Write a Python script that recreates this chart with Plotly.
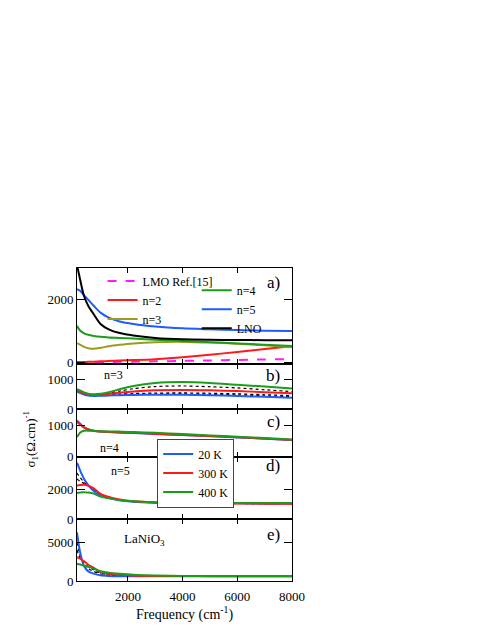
import plotly.graph_objects as go
from plotly.subplots import make_subplots

# frequency grid (cm^-1) shared by all curves
freq = [140, 250, 400, 550, 750, 1000, 1300, 1700, 2200, 3000, 4000, 5000, 6000, 7000, 8000]

# panel a) - room temperature spectra
lmo_ref = [5, 5, 5, 5, 8, 10, 12, 15, 20, 30, 45, 60, 75, 90, 105]
n2 = [0, 5, 10, 15, 20, 30, 40, 55, 70, 100, 160, 240, 330, 420, 510]
n3 = [610, 560, 490, 450, 430, 460, 510, 555, 600, 640, 650, 630, 590, 540, 480]
n4 = [1160, 1010, 920, 875, 840, 810, 790, 775, 755, 720, 680, 640, 600, 560, 520]
n5 = [2330, 2280, 2130, 1990, 1800, 1580, 1420, 1300, 1220, 1140, 1080, 1050, 1025, 1005, 995]
lno = [3100, 2650, 2100, 1800, 1530, 1220, 1050, 930, 850, 775, 730, 715, 708, 705, 705]

# panel b) n=3
b_20 = [580, 540, 490, 455, 440, 445, 455, 465, 475, 482, 482, 465, 440, 410, 383]
b_300 = [615, 580, 530, 490, 472, 480, 510, 550, 590, 625, 637, 625, 600, 565, 528]
b_400 = [660, 620, 560, 515, 495, 510, 560, 660, 770, 870, 900, 870, 810, 750, 690]
b_mid = [
    [590, 550, 500, 462, 447, 452, 466, 480, 495, 505, 508, 495, 475, 445, 415],
    [600, 560, 510, 472, 455, 462, 480, 500, 520, 535, 540, 530, 510, 480, 450],
    [640, 600, 545, 505, 485, 495, 530, 600, 680, 750, 770, 745, 705, 645, 585],
]

# panel c) n=4
c_20 = [1150, 1050, 930, 870, 820, 795, 780, 765, 750, 720, 685, 650, 612, 570, 527]
c_300 = [1100, 1020, 920, 865, 825, 800, 785, 770, 755, 725, 690, 655, 618, 575, 532]
c_400 = [620, 760, 820, 825, 815, 805, 800, 795, 785, 755, 716, 675, 631, 590, 549]
c_mid = [
    [1120, 1030, 915, 860, 818, 795, 780, 765, 752, 722, 688, 652, 615, 572, 530],
]

# panel d) n=5
d_20 = [3800, 3300, 2700, 2300, 1900, 1580, 1420, 1270, 1170, 1110, 1090, 1075, 1065, 1060, 1060]
d_300 = [2270, 2300, 2310, 2250, 2080, 1700, 1500, 1320, 1200, 1120, 1080, 1060, 1050, 1045, 1040]
d_400 = [1760, 1800, 1820, 1790, 1720, 1520, 1400, 1280, 1200, 1140, 1110, 1100, 1095, 1095, 1095]
d_mid = [
    [3100, 2800, 2500, 2250, 1990, 1640, 1460, 1300, 1185, 1115, 1085, 1068, 1058, 1053, 1050],
    [2700, 2550, 2400, 2250, 2030, 1670, 1480, 1310, 1190, 1118, 1083, 1065, 1055, 1050, 1048],
]

# panel e) LaNiO3
e_20 = [6300, 3800, 1900, 1250, 950, 730, 650, 610, 600, 600, 600, 600, 600, 600, 600]
e_300 = [3100, 2900, 2550, 2100, 1700, 1150, 950, 820, 720, 660, 640, 630, 625, 620, 620]
e_400 = [2220, 2130, 1980, 1830, 1620, 1260, 1080, 930, 800, 700, 660, 650, 650, 650, 650]
e_mid = [
    [5000, 3300, 2200, 1600, 1250, 900, 760, 680, 640, 615, 610, 605, 605, 605, 605],
    [4000, 3000, 2350, 1850, 1450, 1000, 820, 720, 660, 630, 620, 615, 612, 610, 610],
]

temps = ["20 K", "300 K", "400 K"]
y_ranges = [[-50, 3000], [0, 1500], [0, 1500], [0, 4200], [0, 8000]]
y_ticks = [[0, 2000], [0, 1000], [0, 1000], [0, 2000], [0, 5000]]
x_ticks = [2000, 4000, 6000, 8000]

BLUE = "#1f5cff"
RED = "#ff1a1a"
GREEN = "#1a9e1a"
OLIVE = "#9e9a1e"
MAGENTA = "#ff19ff"
FONT = "Liberation Serif"

fig = make_subplots(rows=5, cols=1, shared_xaxes=True, vertical_spacing=0,
                    row_heights=[95.7, 45.3, 47.4, 62.3, 61.7])


def curve(y, color, row, name=None, dash="solid", width=2, legend=None):
    fig.add_trace(go.Scatter(
        x=freq, y=y, mode="lines", name=name,
        line=dict(color=color, width=width, dash=dash, shape="spline", smoothing=0.8),
        showlegend=legend is not None, legend=legend or "legend",
    ), row=row, col=1)


# panel a
curve(lmo_ref, MAGENTA, 1, "LMO Ref.[15]", dash="dash", legend="legend")
curve(n2, RED, 1, "n=2", legend="legend")
curve(n3, OLIVE, 1, "n=3", legend="legend")
curve(n4, GREEN, 1, "n=4", legend="legend2")
curve(n5, BLUE, 1, "n=5", legend="legend2")
curve(lno, "black", 1, "LNO", legend="legend2")

# temperature panels
panels = [(b_20, b_300, b_400, b_mid), (c_20, c_300, c_400, c_mid),
          (d_20, d_300, d_400, d_mid), (e_20, e_300, e_400, e_mid)]
for i, (s20, s300, s400, mids) in enumerate(panels):
    row = i + 2
    for m in mids:
        curve(m, "black", row, dash="dot", width=1.2)
    first = i == 0
    curve(s20, BLUE, row, temps[0], legend="legend3" if first else None)
    curve(s300, RED, row, temps[1], legend="legend3" if first else None)
    curve(s400, GREEN, row, temps[2], legend="legend3" if first else None)

for r in range(1, 6):
    fig.update_yaxes(range=y_ranges[r - 1], tickvals=y_ticks[r - 1], row=r, col=1)
    fig.update_xaxes(range=[140, 8000], tickvals=x_ticks, row=r, col=1)

fig.update_xaxes(showline=True, linecolor="black", linewidth=1, mirror="ticks",
                 ticks="inside", ticklen=5, tickcolor="black", showgrid=False,
                 zeroline=False)
fig.update_yaxes(showline=True, linecolor="black", linewidth=1, mirror="ticks",
                 ticks="inside", ticklen=8, tickcolor="black", showgrid=False,
                 zeroline=False)
fig.update_xaxes(ticklabelstandoff=3, row=5, col=1)

# panel labels and sample names
labels = [("a)", 0.955), ("b)", 0.657), ("c)", 0.508), ("d)", 0.369), ("e)", 0.149)]
annotations = [dict(text=t, x=0.955, y=y, xref="paper", yref="paper", showarrow=False,
                    xanchor="right", yanchor="middle", font=dict(size=17)) for t, y in labels]
annotations += [
    dict(text="n=3", x=0.115, y=0.659, xref="paper", yref="paper", showarrow=False, font=dict(size=12)),
    dict(text="n=4", x=0.098, y=0.424, xref="paper", yref="paper", showarrow=False, font=dict(size=12)),
    dict(text="n=5", x=0.148, y=0.322, xref="paper", yref="paper", showarrow=False, font=dict(size=12)),
    dict(text="LaNiO<sub>3</sub>", x=0.21, y=0.098, xref="paper", yref="paper", showarrow=False,
         font=dict(size=13)),
    dict(text="σ<sub>1</sub>(Ω.cm)<sup>-1</sup>", x=-0.27, y=0.455, xref="paper", yref="paper",
         showarrow=False, textangle=-90, font=dict(size=13)),
    dict(text="Frequency (cm<sup>-1</sup>)", x=0.5, y=-0.105, xref="paper", yref="paper",
         showarrow=False, yanchor="middle", font=dict(size=14)),
]

fig.update_layout(
    width=483, height=627,
    margin=dict(l=69, r=199, t=260, b=54),
    paper_bgcolor="white", plot_bgcolor="white",
    font=dict(family=FONT, size=13, color="black"),
    annotations=annotations,
    legend=dict(x=0.119, y=1.005, xanchor="left", yanchor="top", bgcolor="rgba(0,0,0,0)",
                itemwidth=30, font=dict(size=12), tracegroupgap=0),
    legend2=dict(x=0.557, y=0.975, xanchor="left", yanchor="top", bgcolor="rgba(0,0,0,0)",
                 itemwidth=30, font=dict(size=12), tracegroupgap=0),
    legend3=dict(x=0.373, y=0.455, xanchor="left", yanchor="top", bgcolor="white",
                 bordercolor="#444", borderwidth=1, itemwidth=30, font=dict(size=12)),
)

fig.write_html("out.html")
